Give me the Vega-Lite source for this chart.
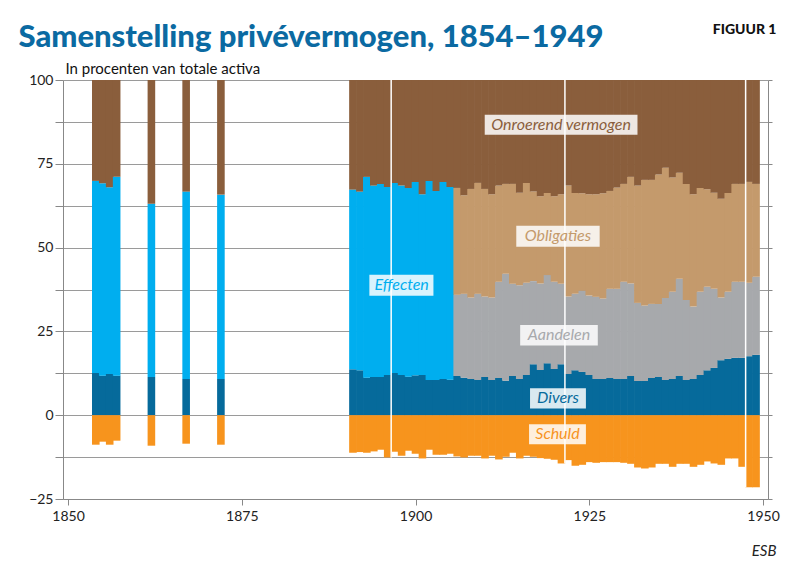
{
  "$schema": "https://vega.github.io/schema/vega-lite/v6.json",
  "width": 705,
  "height": 419,
  "autosize": {"type": "none"},
  "padding": {"left": 63, "top": 80, "right": 30, "bottom": 66},
  "background": "white",
  "config": {"view": {"stroke": null}},
  "datasets": {
    "wealth": [
      {"year": 1854, "Divers": 12.6, "Effecten": 57.3, "Onroerend vermogen": 30.1, "Schuld": -8.8},
      {"year": 1855, "Divers": 11.8, "Effecten": 57.4, "Onroerend vermogen": 30.8, "Schuld": -7.9},
      {"year": 1856, "Divers": 12.3, "Effecten": 55.7, "Onroerend vermogen": 32.0, "Schuld": -8.8},
      {"year": 1857, "Divers": 11.8, "Effecten": 59.3, "Onroerend vermogen": 28.9, "Schuld": -7.6},
      {"year": 1862, "Divers": 11.4, "Effecten": 51.7, "Onroerend vermogen": 36.9, "Schuld": -9.1},
      {"year": 1867, "Divers": 10.8, "Effecten": 55.9, "Onroerend vermogen": 33.3, "Schuld": -8.5},
      {"year": 1872, "Divers": 10.8, "Effecten": 55.0, "Onroerend vermogen": 34.2, "Schuld": -8.8},
      {"year": 1891, "Divers": 13.7, "Effecten": 53.6, "Onroerend vermogen": 32.7, "Schuld": -11.2},
      {"year": 1892, "Divers": 13.4, "Effecten": 53.3, "Onroerend vermogen": 33.3, "Schuld": -11.0},
      {"year": 1893, "Divers": 11.2, "Effecten": 59.9, "Onroerend vermogen": 28.9, "Schuld": -11.2},
      {"year": 1894, "Divers": 11.4, "Effecten": 57.1, "Onroerend vermogen": 31.5, "Schuld": -10.8},
      {"year": 1895, "Divers": 11.4, "Effecten": 57.6, "Onroerend vermogen": 31.0, "Schuld": -10.3},
      {"year": 1896, "Divers": 12.0, "Effecten": 56.1, "Onroerend vermogen": 31.9, "Schuld": -12.6},
      {"year": 1897, "Divers": 12.6, "Effecten": 56.7, "Onroerend vermogen": 30.7, "Schuld": -10.9},
      {"year": 1898, "Divers": 12.0, "Effecten": 56.5, "Onroerend vermogen": 31.5, "Schuld": -12.1},
      {"year": 1899, "Divers": 11.5, "Effecten": 56.3, "Onroerend vermogen": 32.2, "Schuld": -10.6},
      {"year": 1900, "Divers": 11.9, "Effecten": 57.7, "Onroerend vermogen": 30.4, "Schuld": -11.5},
      {"year": 1901, "Divers": 12.0, "Effecten": 53.9, "Onroerend vermogen": 34.1, "Schuld": -12.9},
      {"year": 1902, "Divers": 10.5, "Effecten": 59.4, "Onroerend vermogen": 30.1, "Schuld": -10.3},
      {"year": 1903, "Divers": 10.5, "Effecten": 56.4, "Onroerend vermogen": 33.1, "Schuld": -11.8},
      {"year": 1904, "Divers": 10.8, "Effecten": 58.8, "Onroerend vermogen": 30.4, "Schuld": -11.8},
      {"year": 1905, "Divers": 10.6, "Effecten": 57.5, "Onroerend vermogen": 31.9, "Schuld": -11.5},
      {"year": 1906, "Divers": 11.7, "Aandelen": 24.2, "Obligaties": 31.9, "Onroerend vermogen": 32.2, "Schuld": -12.3},
      {"year": 1907, "Divers": 11.2, "Aandelen": 25.0, "Obligaties": 29.4, "Onroerend vermogen": 34.4, "Schuld": -12.6},
      {"year": 1908, "Divers": 10.8, "Aandelen": 24.3, "Obligaties": 32.4, "Onroerend vermogen": 32.5, "Schuld": -12.1},
      {"year": 1909, "Divers": 10.5, "Aandelen": 25.7, "Obligaties": 33.1, "Onroerend vermogen": 30.7, "Schuld": -12.1},
      {"year": 1910, "Divers": 11.4, "Aandelen": 24.0, "Obligaties": 32.1, "Onroerend vermogen": 32.5, "Schuld": -12.9},
      {"year": 1911, "Divers": 10.5, "Aandelen": 24.6, "Obligaties": 30.8, "Onroerend vermogen": 34.1, "Schuld": -12.1},
      {"year": 1912, "Divers": 11.1, "Aandelen": 28.7, "Obligaties": 28.7, "Onroerend vermogen": 31.5, "Schuld": -13.2},
      {"year": 1913, "Divers": 10.3, "Aandelen": 31.9, "Obligaties": 26.8, "Onroerend vermogen": 31.0, "Schuld": -12.4},
      {"year": 1914, "Divers": 11.7, "Aandelen": 27.5, "Obligaties": 29.8, "Onroerend vermogen": 31.0, "Schuld": -11.2},
      {"year": 1915, "Divers": 10.8, "Aandelen": 28.0, "Obligaties": 27.6, "Onroerend vermogen": 33.6, "Schuld": -12.9},
      {"year": 1916, "Divers": 12.0, "Aandelen": 27.5, "Obligaties": 29.8, "Onroerend vermogen": 30.7, "Schuld": -12.1},
      {"year": 1917, "Divers": 15.2, "Aandelen": 24.8, "Obligaties": 26.7, "Onroerend vermogen": 33.3, "Schuld": -12.4},
      {"year": 1918, "Divers": 13.5, "Aandelen": 25.8, "Obligaties": 26.0, "Onroerend vermogen": 34.7, "Schuld": -12.8},
      {"year": 1919, "Divers": 15.5, "Aandelen": 26.3, "Obligaties": 24.5, "Onroerend vermogen": 33.7, "Schuld": -13.0},
      {"year": 1920, "Divers": 13.8, "Aandelen": 26.0, "Obligaties": 25.5, "Onroerend vermogen": 34.7, "Schuld": -13.3},
      {"year": 1921, "Divers": 15.2, "Aandelen": 24.0, "Obligaties": 26.7, "Onroerend vermogen": 34.1, "Schuld": -14.4},
      {"year": 1922, "Divers": 12.3, "Aandelen": 23.1, "Obligaties": 33.1, "Onroerend vermogen": 31.5, "Schuld": -13.4},
      {"year": 1923, "Divers": 13.4, "Aandelen": 22.8, "Obligaties": 30.1, "Onroerend vermogen": 33.7, "Schuld": -15.1},
      {"year": 1924, "Divers": 12.9, "Aandelen": 24.2, "Obligaties": 29.1, "Onroerend vermogen": 33.8, "Schuld": -14.8},
      {"year": 1925, "Divers": 12.0, "Aandelen": 23.7, "Obligaties": 30.2, "Onroerend vermogen": 34.1, "Schuld": -14.0},
      {"year": 1926, "Divers": 10.8, "Aandelen": 24.5, "Obligaties": 30.6, "Onroerend vermogen": 34.1, "Schuld": -14.2},
      {"year": 1927, "Divers": 10.8, "Aandelen": 24.0, "Obligaties": 31.4, "Onroerend vermogen": 33.8, "Schuld": -14.0},
      {"year": 1928, "Divers": 11.1, "Aandelen": 26.6, "Obligaties": 29.2, "Onroerend vermogen": 33.1, "Schuld": -14.0},
      {"year": 1929, "Divers": 10.8, "Aandelen": 26.9, "Obligaties": 30.2, "Onroerend vermogen": 32.1, "Schuld": -14.0},
      {"year": 1930, "Divers": 10.8, "Aandelen": 29.0, "Obligaties": 29.2, "Onroerend vermogen": 31.0, "Schuld": -14.2},
      {"year": 1931, "Divers": 11.7, "Aandelen": 27.6, "Obligaties": 31.8, "Onroerend vermogen": 28.9, "Schuld": -14.5},
      {"year": 1932, "Divers": 10.2, "Aandelen": 23.3, "Obligaties": 35.0, "Onroerend vermogen": 31.5, "Schuld": -15.6},
      {"year": 1933, "Divers": 10.2, "Aandelen": 22.5, "Obligaties": 37.5, "Onroerend vermogen": 29.8, "Schuld": -15.9},
      {"year": 1934, "Divers": 11.1, "Aandelen": 22.1, "Obligaties": 37.0, "Onroerend vermogen": 29.8, "Schuld": -15.6},
      {"year": 1935, "Divers": 11.4, "Aandelen": 21.8, "Obligaties": 38.6, "Onroerend vermogen": 28.2, "Schuld": -14.5},
      {"year": 1936, "Divers": 10.5, "Aandelen": 24.5, "Obligaties": 38.8, "Onroerend vermogen": 26.2, "Schuld": -14.5},
      {"year": 1937, "Divers": 10.8, "Aandelen": 26.0, "Obligaties": 34.1, "Onroerend vermogen": 29.1, "Schuld": -15.4},
      {"year": 1938, "Divers": 11.7, "Aandelen": 29.0, "Obligaties": 31.6, "Onroerend vermogen": 27.7, "Schuld": -14.5},
      {"year": 1939, "Divers": 10.5, "Aandelen": 23.9, "Obligaties": 34.6, "Onroerend vermogen": 31.0, "Schuld": -14.5},
      {"year": 1940, "Divers": 10.8, "Aandelen": 21.6, "Obligaties": 33.5, "Onroerend vermogen": 34.1, "Schuld": -15.4},
      {"year": 1941, "Divers": 12.0, "Aandelen": 24.8, "Obligaties": 31.0, "Onroerend vermogen": 32.2, "Schuld": -14.8},
      {"year": 1942, "Divers": 13.4, "Aandelen": 24.9, "Obligaties": 29.1, "Onroerend vermogen": 32.6, "Schuld": -13.8},
      {"year": 1943, "Divers": 14.1, "Aandelen": 23.6, "Obligaties": 28.7, "Onroerend vermogen": 33.6, "Schuld": -14.4},
      {"year": 1944, "Divers": 16.4, "Aandelen": 18.7, "Obligaties": 29.5, "Onroerend vermogen": 35.4, "Schuld": -14.8},
      {"year": 1945, "Divers": 16.8, "Aandelen": 20.0, "Obligaties": 29.5, "Onroerend vermogen": 33.7, "Schuld": -12.9},
      {"year": 1946, "Divers": 17.1, "Aandelen": 22.7, "Obligaties": 29.2, "Onroerend vermogen": 31.0, "Schuld": -12.9},
      {"year": 1947, "Divers": 17.1, "Aandelen": 22.7, "Obligaties": 29.2, "Onroerend vermogen": 31.0, "Schuld": -15.4},
      {"year": 1948, "Divers": 17.6, "Aandelen": 21.9, "Obligaties": 30.1, "Onroerend vermogen": 30.4, "Schuld": -21.5},
      {"year": 1949, "Divers": 18.0, "Aandelen": 23.3, "Obligaties": 27.7, "Onroerend vermogen": 31.0, "Schuld": -21.5}
    ],
    "seriesOrder": [
      {"series": "Schuld", "rank": 0},
      {"series": "Divers", "rank": 1},
      {"series": "Effecten", "rank": 2},
      {"series": "Aandelen", "rank": 3},
      {"series": "Obligaties", "rank": 4},
      {"series": "Onroerend vermogen", "rank": 5}
    ],
    "breaks": [
      {"year": 1896.5, "top": 100, "low": -12.6},
      {"year": 1921.5, "top": 100, "low": -14.4},
      {"year": 1947.5, "top": 100, "low": -21.5}
    ],
    "labels": [
      {"series": "Onroerend vermogen", "xm": 1920.95, "ym": 86.7, "x1": 1909.96, "x2": 1931.94, "y1": 83.7, "y2": 89.65},
      {"series": "Obligaties", "xm": 1920.5, "ym": 53.4, "x1": 1914.5, "x2": 1926.5, "y1": 50.28, "y2": 56.55},
      {"series": "Effecten", "xm": 1898.0, "ym": 38.8, "x1": 1893.36, "x2": 1902.58, "y1": 35.67, "y2": 41.93},
      {"series": "Aandelen", "xm": 1920.65, "ym": 23.85, "x1": 1915.06, "x2": 1926.23, "y1": 20.76, "y2": 26.93},
      {"series": "Divers", "xm": 1920.5, "ym": 5.0, "x1": 1916.48, "x2": 1924.52, "y1": 1.97, "y2": 8.05},
      {"series": "Schuld", "xm": 1920.43, "ym": -5.67, "x1": 1916.34, "x2": 1924.52, "y1": -8.65, "y2": -2.68}
    ]
  },
  "layer": [
    {
      "data": {"name": "wealth"},
      "transform": [
        {"fold": ["Divers", "Effecten", "Aandelen", "Obligaties", "Onroerend vermogen", "Schuld"], "as": ["series", "value"]},
        {"filter": "isValid(datum.value)"},
        {"lookup": "series", "from": {"data": {"name": "seriesOrder"}, "key": "series", "fields": ["rank"]}}
      ],
      "mark": {"type": "bar", "width": 7.6},
      "encoding": {
        "x": {
          "field": "year", "type": "quantitative",
          "scale": {"domain": [1850, 1950], "nice": false, "zero": false},
          "axis": {
            "orient": "bottom", "values": [1850, 1875, 1900, 1925, 1950], "format": "d", "grid": false,
            "tickSize": 6, "tickColor": "#888", "domainColor": "#888",
            "labelFont": "Lato", "labelFontSize": 14, "labelColor": "#222", "labelPadding": 4, "labelFlush": false,
            "title": "ESB", "titleX": 713, "titleY": 56, "titleAlign": "right", "titleBaseline": "alphabetic",
            "titleFont": "Lato", "titleFontSize": 15, "titleFontWeight": "normal", "titleFontStyle": "italic", "titleColor": "#222"
          }
        },
        "y": {
          "field": "value", "type": "quantitative", "stack": "zero",
          "scale": {"domain": [-25, 100], "nice": false},
          "axis": {
            "orient": "left", "values": [-25, -12.5, 0, 12.5, 25, 37.5, 50, 62.5, 75, 87.5, 100],
            "labelExpr": "datum.value % 25 === 0 ? datum.label : ''",
            "grid": true, "gridColor": "#9a9a9a", "gridWidth": 1,
            "tickSize": 8, "tickColor": "#888",
            "domainColor": "#888",
            "labelFont": "Lato", "labelFontSize": 14, "labelColor": "#222", "labelPadding": 2,
            "title": "In procenten van totale activa", "titleAngle": 0, "titleAlign": "left", "titleBaseline": "alphabetic",
            "titleX": 2, "titleY": -7, "titleFont": "Lato", "titleFontSize": 15, "titleFontWeight": "normal", "titleColor": "#111"
          }
        },
        "color": {
          "field": "series", "type": "nominal", "legend": null,
          "scale": {
            "domain": ["Onroerend vermogen", "Obligaties", "Effecten", "Aandelen", "Divers", "Schuld"],
            "range": ["#8a5e3c", "#c49a6c", "#00aeef", "#a7a9ac", "#066a9b", "#f7941d"]
          }
        },
        "order": {"field": "rank", "type": "quantitative"}
      }
    },
    {
      "data": {"name": "breaks"},
      "mark": {"type": "rule", "color": "white", "strokeWidth": 1.5},
      "encoding": {
        "x": {
          "field": "year", "type": "quantitative",
          "scale": {"domain": [1850, 1950], "nice": false, "zero": false},
          "axis": {
            "orient": "top", "labels": false, "ticks": false, "domain": false, "grid": false,
            "title": "Samenstelling privévermogen, 1854–1949", "titleAlign": "left", "titleBaseline": "alphabetic",
            "titleX": -45, "titleY": -34, "titleFont": "Lato", "titleFontSize": 31,
            "titleFontWeight": 900, "titleColor": "#0b6aa2"
          }
        },
        "y": {
          "field": "top", "type": "quantitative",
          "scale": {"domain": [-25, 100], "nice": false},
          "axis": {
            "orient": "right", "values": [-25, -12.5, 0, 12.5, 25, 37.5, 50, 62.5, 75, 87.5, 100],
            "labels": false, "grid": false, "tickSize": 4, "tickColor": "#888", "domainColor": "#888",
            "title": "FIGUUR 1", "titleAngle": 0, "titleAlign": "right", "titleBaseline": "alphabetic",
            "titleX": 8, "titleY": -47, "titleFont": "Lato", "titleFontSize": 14, "titleFontWeight": 900, "titleColor": "#111"
          }
        },
        "y2": {"field": "low"}
      }
    },
    {
      "data": {"name": "labels"},
      "mark": {"type": "rect", "color": "white", "opacity": 0.85},
      "encoding": {
        "x": {"field": "x1", "type": "quantitative", "axis": null, "scale": {"domain": [1850, 1950], "nice": false, "zero": false}},
        "x2": {"field": "x2"},
        "y": {"field": "y1", "type": "quantitative", "axis": null, "scale": {"domain": [-25, 100], "nice": false}},
        "y2": {"field": "y2"}
      }
    },
    {
      "data": {"name": "labels"},
      "mark": {"type": "text", "font": "Lato", "fontStyle": "italic", "fontSize": 16, "align": "center", "baseline": "middle"},
      "encoding": {
        "x": {"field": "xm", "type": "quantitative", "axis": null, "scale": {"domain": [1850, 1950], "nice": false, "zero": false}},
        "y": {"field": "ym", "type": "quantitative", "axis": null, "scale": {"domain": [-25, 100], "nice": false}},
        "text": {"field": "series"},
        "color": {"field": "series", "type": "nominal", "legend": null}
      }
    }
  ],
  "resolve": {"axis": {"x": "independent", "y": "independent"}}
}
